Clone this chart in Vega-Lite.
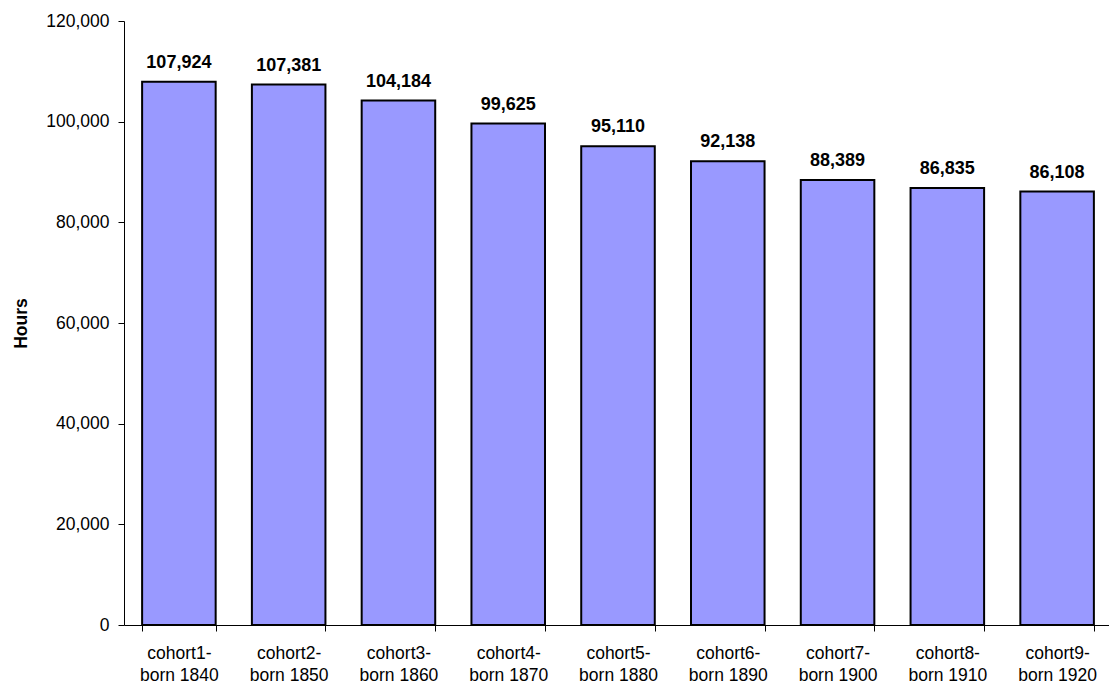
{
  "$schema": "https://vega.github.io/schema/vega-lite/v6.json",
  "autosize": "none",
  "padding": {"left": 124, "top": 21, "right": 0, "bottom": 64},
  "width": 988,
  "height": 604,
  "background": "white",
  "config": {
    "view": {"stroke": null},
    "font": "Liberation Sans"
  },
  "data": {
    "values": [
      {"cohort": "cohort1-|born 1840", "hours": 107924},
      {"cohort": "cohort2-|born 1850", "hours": 107381},
      {"cohort": "cohort3-|born 1860", "hours": 104184},
      {"cohort": "cohort4-|born 1870", "hours": 99625},
      {"cohort": "cohort5-|born 1880", "hours": 95110},
      {"cohort": "cohort6-|born 1890", "hours": 92138},
      {"cohort": "cohort7-|born 1900", "hours": 88389},
      {"cohort": "cohort8-|born 1910", "hours": 86835},
      {"cohort": "cohort9-|born 1920", "hours": 86108}
    ]
  },
  "encoding": {
    "x": {
      "field": "cohort",
      "type": "nominal",
      "sort": null,
      "scale": {"paddingInner": 0.33, "paddingOuter": 0.165},
      "axis": {
        "title": null,
        "labelAngle": 0,
        "labelExpr": "split(datum.label, '|')",
        "labelFontSize": 17.5,
        "labelColor": "black",
        "labelLineHeight": 22,
        "labelPadding": 13,
        "tickBand": "extent",
        "tickSize": 6,
        "tickColor": "black",
        "domainColor": "black",
        "domainWidth": 1,
        "tickWidth": 1
      }
    },
    "y": {
      "field": "hours",
      "type": "quantitative",
      "scale": {"domain": [0, 120000]},
      "axis": {
        "title": "Hours",
        "titleFontSize": 17.5,
        "titleFontWeight": "bold",
        "titleColor": "black",
        "titlePadding": 15,
        "values": [0, 20000, 40000, 60000, 80000, 100000, 120000],
        "format": ",d",
        "labelFontSize": 17.5,
        "labelColor": "black",
        "labelPadding": 9,
        "tickSize": 6,
        "tickColor": "black",
        "domainColor": "black",
        "grid": false
      }
    }
  },
  "layer": [
    {
      "mark": {"type": "bar", "color": "#9999FF", "stroke": "black", "strokeWidth": 2}
    },
    {
      "mark": {"type": "text", "baseline": "bottom", "dy": -10, "fontSize": 18, "fontWeight": "bold", "color": "black"},
      "encoding": {"text": {"field": "hours", "type": "quantitative", "format": ","}}
    }
  ]
}
